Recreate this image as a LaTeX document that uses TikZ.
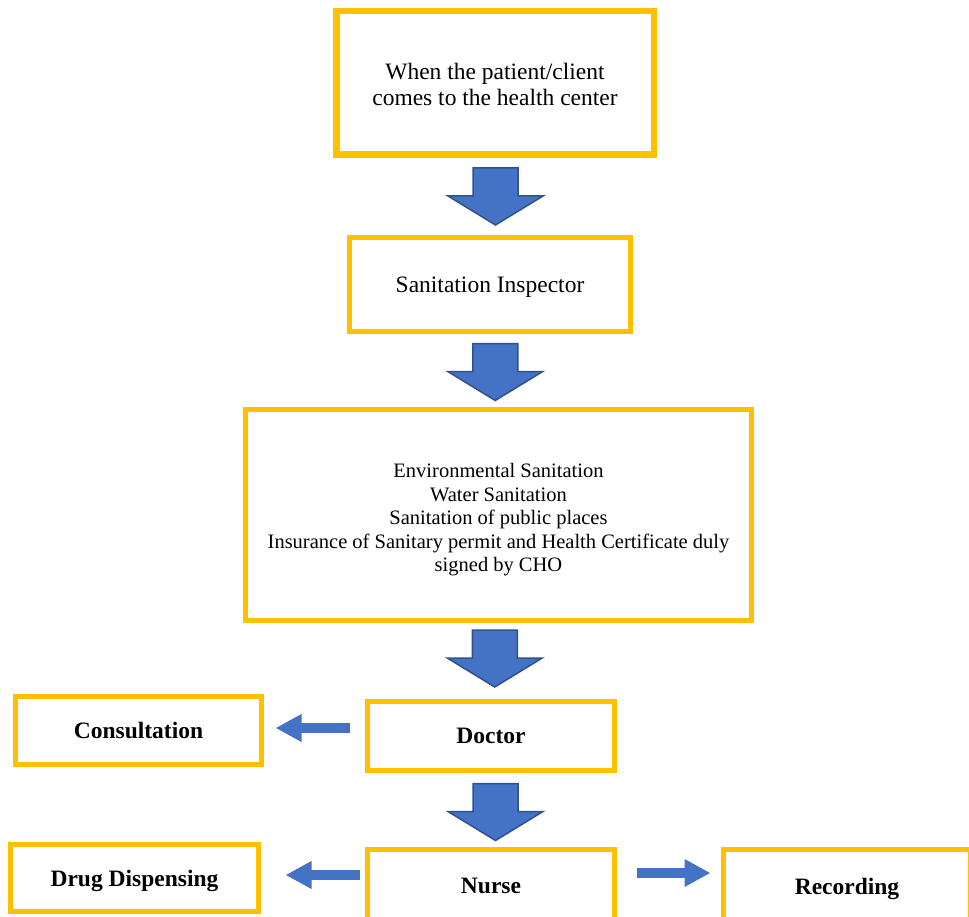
\documentclass[tikz,border=0pt]{standalone}
\usepackage{fontspec}
\setmainfont{Liberation Serif}
\usepackage{xcolor}
\usepackage{tikz}
\usetikzlibrary{arrows.meta,calc}

\definecolor{boxgold}{HTML}{FFC000}
\definecolor{flowblue}{HTML}{4472C4}
\definecolor{flowedge}{HTML}{2F528F}

\begin{document}
\begin{tikzpicture}[x=1pt,y=-1pt,
  box/.style={draw=boxgold,line width=5pt,fill=white,align=center,inner sep=0pt,
    font=\fontsize{23.5}{26}\selectfont},
  onebox/.style={box,text depth=0pt},
  boldbox/.style={onebox,font=\fontsize{23.5}{26}\selectfont\bfseries},
  sidearrow/.style={draw=flowblue,line width=10pt,-{Triangle[length=26pt,width=26pt]}},
  blockdown/.pic={\draw[fill=flowblue,draw=flowedge,line width=1.5pt]
    (-22.5,-28.5) -- (22.5,-28.5) -- (22.5,-0.5) -- (47.5,-0.5) -- (0,28.5)
    -- (-47.5,-0.5) -- (-22.5,-0.5) -- cycle;}]
  \useasboundingbox (0,0) rectangle (969,917);
  \clip (0,0) rectangle (969,917);

  % main column
  \node[box,line width=6.5pt,minimum width=317.5pt,minimum height=143.5pt] (patient) at (495,83)
    {\rule{0pt}{20pt}When the patient/client\\comes to the health center};
  \node[onebox,minimum width=281pt,minimum height=94pt] (inspector) at (490,284.5)
    {Sanitation Inspector};
  \node[box,minimum width=506pt,minimum height=211pt,font=\fontsize{20.5}{23.5}\selectfont] (duties) at (498.5,515)
    {\rule{0pt}{24pt}Environmental Sanitation\\Water Sanitation\\Sanitation of public places\\
     Insurance of Sanitary permit and Health Certificate duly\\signed by CHO};
  \node[boldbox,minimum width=247pt,minimum height=69pt] (doctor) at (491,736) {Doctor};
  \node[boldbox,minimum width=247pt,minimum height=73pt] (nurse) at (491,886) {Nurse};

  % side boxes
  \node[boldbox,minimum width=246pt,minimum height=68pt] (consult) at (138.5,730.5) {Consultation};
  \node[boldbox,minimum width=248pt,minimum height=67pt] (drug) at (134.5,878) {Drug Dispensing};
  \node[boldbox,minimum width=247pt,minimum height=73pt] (record) at (847,886) {Recording};

  % block arrows
  \pic at ($(patient.south)!0.5!(inspector.north)+(3,0)$) {blockdown};
  \pic at ($(inspector.south)!0.5!(duties.north)+(1,1.5)$) {blockdown};
  \pic at ($(duties.south)!0.5!(doctor.north)+(0,-2.5)$) {blockdown};
  \pic at ($(doctor.south)!0.5!(nurse.north)+(4.5,2)$) {blockdown};

  % side arrows
  \draw[sidearrow,shorten <=15.5pt,shorten >=11.5pt] ([yshift=2.5pt]consult.east -| doctor.west) -- ([yshift=2.5pt]consult.east);
  \draw[sidearrow,shorten <=5.5pt,shorten >=24.5pt] ([yshift=3pt]drug.east -| nurse.west) -- ([yshift=3pt]drug.east);
  \draw[sidearrow,shorten <=19.5pt,shorten >=10.5pt] ([yshift=13pt]nurse.east) -- ([yshift=13pt]record.west);
\end{tikzpicture}
\end{document}
